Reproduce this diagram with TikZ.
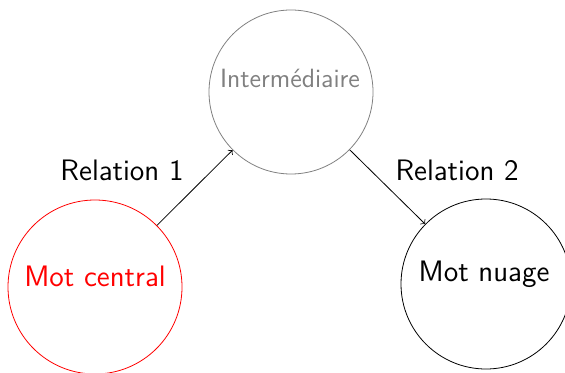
\documentclass[tikz,border=0pt]{standalone}
\usepackage{tikz}
\begin{document}
\begin{tikzpicture}[x=0.5pt,y=-0.5pt,
  font=\sffamily,
  concept/.style={circle,draw,inner sep=0pt},
  word/.style={anchor=base,inner sep=0pt,font=\sffamily\fontsize{14.8}{18}\selectfont},
  link/.style={->,draw=black},
  rellabel/.style={font=\sffamily\fontsize{14.8}{18}\selectfont,text=black}]
  \useasboundingbox (0,0) rectangle (565,373);
  % the three concepts
  \node[concept,draw=red,minimum size=87pt] (central) at (95,287) {};
  \node[word,text=red] (central-text) at (95,286) {Mot central};
  \node[concept,draw=gray,minimum size=82pt] (inter) at (291,92) {};
  \node[word,text=gray,font=\sffamily\fontsize{13.2}{16}\selectfont] (inter-text) at (290,88) {Intermédiaire};
  \node[concept,minimum size=85pt] (nuage) at (486,284) {};
  \node[word] (nuage-text) at (484,281) {Mot nuage};
  % relations between them
  \draw[link] (central) -- (inter);
  \draw[link] (inter) -- (nuage);
  \node[rellabel] (r1) at (122,170) {Relation 1};
  \node[rellabel] (r2) at (457,170) {Relation 2};
\end{tikzpicture}
\end{document}
